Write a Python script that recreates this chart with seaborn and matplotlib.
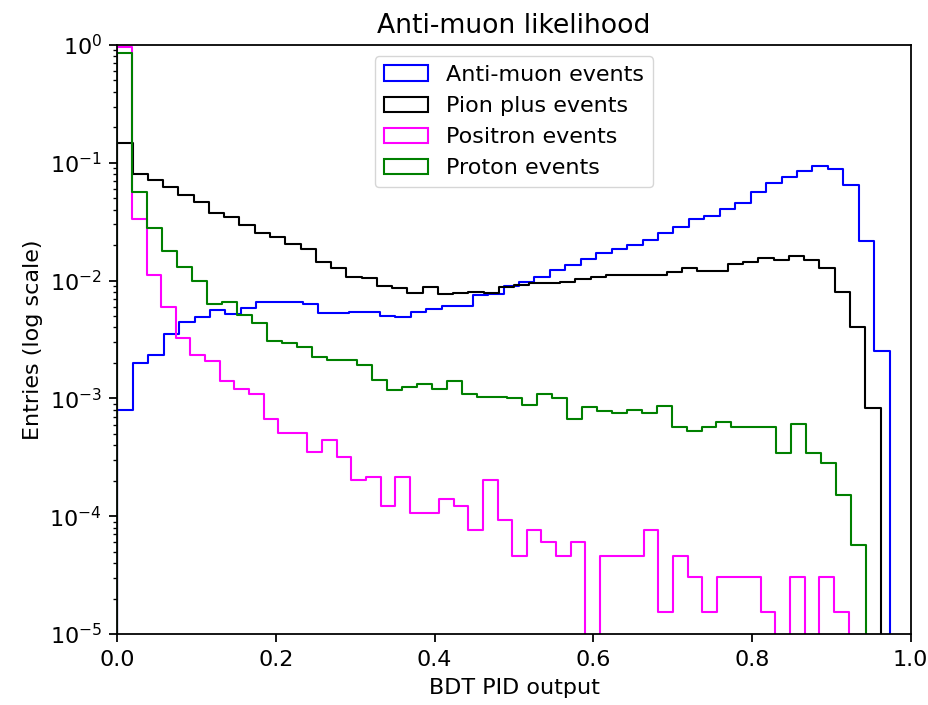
import numpy as np
import pandas as pd
import matplotlib
matplotlib.use("Agg")
import matplotlib.pyplot as plt
import seaborn as sns
from matplotlib.patches import Patch

# ---------------- data (normalised entries per bin, 50 bins each) ----------------
series_labels = ["Anti-muon events", "Pion plus events", "Positron events", "Proton events"]
series_colors = ["blue", "black", "magenta", "green"]
n_bins = 50

antimuon_range = (0.0, 0.9735)
antimuon_values = [
    8.0e-4, 2.0e-3, 2.34e-3, 3.5e-3, 4.48e-3, 4.94e-3, 5.62e-3, 5.20e-3, 5.82e-3, 6.55e-3,
    6.55e-3, 6.55e-3, 6.33e-3, 5.28e-3, 5.28e-3, 5.38e-3, 5.38e-3, 5.04e-3, 4.94e-3, 5.38e-3,
    5.74e-3, 6.12e-3, 6.12e-3, 7.55e-3, 7.7e-3, 9.05e-3, 9.8e-3, 1.08e-2, 1.23e-2, 1.36e-2,
    1.52e-2, 1.73e-2, 1.85e-2, 2.0e-2, 2.21e-2, 2.52e-2, 2.83e-2, 3.31e-2, 3.56e-2, 4.03e-2,
    4.58e-2, 5.65e-2, 6.70e-2, 7.55e-2, 8.52e-2, 9.46e-2, 8.86e-2, 6.48e-2, 2.18e-2, 2.54e-3,
]

pion_range = (0.0, 0.962)
pion_values = [
    0.148, 0.0803, 0.0715, 0.0627, 0.0533, 0.0462, 0.0378, 0.0345, 0.0296, 0.0252,
    0.0233, 0.0205, 0.0184, 0.0145, 0.0127, 0.0108, 0.0106, 9.0e-3, 8.7e-3, 7.9e-3,
    8.77e-3, 7.64e-3, 7.8e-3, 8.05e-3, 7.8e-3, 8.9e-3, 9.2e-3, 9.6e-3, 9.5e-3, 9.8e-3,
    1.026e-2, 1.08e-2, 1.116e-2, 1.116e-2, 1.116e-2, 1.116e-2, 1.19e-2, 1.27e-2, 1.213e-2, 1.213e-2,
    1.375e-2, 1.43e-2, 1.55e-2, 1.49e-2, 1.62e-2, 1.50e-2, 1.27e-2, 8.05e-3, 4.06e-3, 8.34e-4,
]

positron_range = (0.0, 0.9217)
positron_values = [
    0.96, 0.0333, 0.01116, 5.93e-3, 3.27e-3, 2.34e-3, 2.09e-3, 1.41e-3, 1.19e-3, 1.10e-3,
    6.64e-4, 5.05e-4, 5.05e-4, 3.53e-4, 4.43e-4, 3.2e-4, 2.03e-4, 2.14e-4, 1.22e-4, 2.14e-4,
    1.07e-4, 1.07e-4, 1.39e-4, 1.22e-4, 7.63e-5, 2.03e-4, 9.29e-5, 4.62e-5, 7.63e-5, 6.08e-5,
    4.62e-5, 6.08e-5, 0.0, 4.62e-5, 4.62e-5, 4.62e-5, 7.63e-5, 1.55e-5, 4.62e-5, 3.07e-5,
    1.55e-5, 3.07e-5, 3.07e-5, 3.07e-5, 1.55e-5, 0.0, 3.07e-5, 0.0, 3.07e-5, 1.55e-5,
]

proton_range = (0.0, 0.944)
proton_values = [
    0.86, 0.0561, 0.0278, 0.0178, 0.0130, 9.9e-3, 6.29e-3, 6.55e-3, 5.1e-3, 4.34e-3,
    3.07e-3, 2.97e-3, 2.73e-3, 2.26e-3, 2.12e-3, 2.12e-3, 1.92e-3, 1.43e-3, 1.18e-3, 1.24e-3,
    1.32e-3, 1.20e-3, 1.41e-3, 1.09e-3, 1.03e-3, 1.03e-3, 1.0e-3, 8.8e-4, 1.09e-3, 1.0e-3,
    6.64e-4, 8.5e-4, 7.8e-4, 7.47e-4, 7.97e-4, 7.47e-4, 8.55e-4, 5.7e-4, 5.3e-4, 5.68e-4,
    6.35e-4, 5.7e-4, 5.7e-4, 5.7e-4, 3.46e-4, 6.02e-4, 3.46e-4, 2.85e-4, 1.50e-4, 5.7e-5,
]

series_values = [antimuon_values, pion_values, positron_values, proton_values]
series_ranges = [antimuon_range, pion_range, positron_range, proton_range]

# ---------------- figure ----------------
S = 1.6
plt.rcParams.update({
    "font.family": ["DejaVu Sans"],
    "font.size": 10 * S,
    "axes.linewidth": 0.8 * S,
    "xtick.major.size": 3.5 * S, "ytick.major.size": 3.5 * S,
    "xtick.minor.size": 2.0 * S, "ytick.minor.size": 2.0 * S,
    "xtick.major.width": 0.8 * S, "ytick.major.width": 0.8 * S,
    "xtick.minor.width": 0.6 * S, "ytick.minor.width": 0.6 * S,
    "xtick.major.pad": 3.5 * S, "ytick.major.pad": 3.5 * S,
})

fig = plt.figure(figsize=(9.29, 7.05), dpi=100)
ax = fig.add_axes([0.1263, 0.1007, 0.8540, 0.8355])

for vals, (lo, hi), col in zip(series_values, series_ranges, series_colors):
    edges = np.linspace(lo, hi, n_bins + 1)
    w = edges[1] - edges[0]
    centers = 0.5 * (edges[:-1] + edges[1:])
    df = pd.DataFrame({"x": centers, "w": np.asarray(vals, dtype=float)})
    # one empty bin on each side so the outline drops to the baseline at both ends
    sns.histplot(data=df, x="x", weights="w", bins=n_bins + 2,
                 binrange=(lo - w, hi + w), element="step", fill=False,
                 color=col, linewidth=1.5, ax=ax)

ax.set_yscale("log")
ax.set_xlim(0.0, 1.0)
ax.set_ylim(1e-5, 1.0)
ax.set_title("Anti-muon likelihood", fontsize=12 * S, pad=8.5)
ax.set_xlabel("BDT PID output", labelpad=4 * S)
ax.set_ylabel("Entries (log scale)", labelpad=3 * S)

handles = [Patch(facecolor="none", edgecolor=c, linewidth=1.5, label=l)
           for c, l in zip(series_colors, series_labels)]
ax.legend(handles=handles, loc="upper center")

fig.savefig("out.png", dpi=100)
